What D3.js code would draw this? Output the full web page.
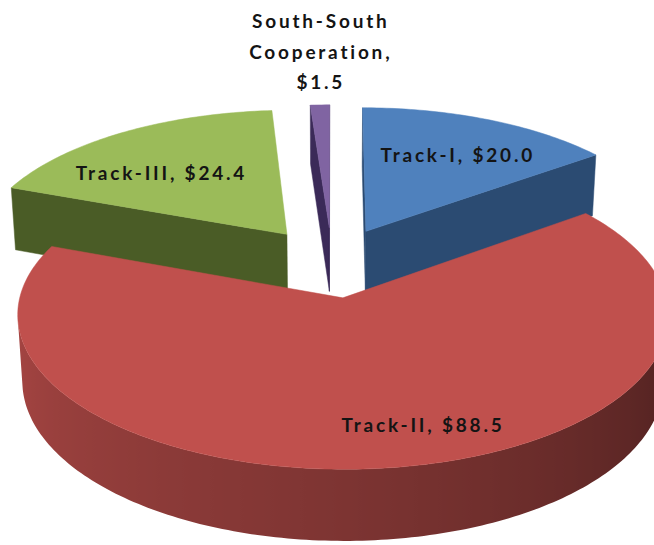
<!DOCTYPE html>
<html>
<head>
<meta charset="utf-8">
<script src="https://cdn.jsdelivr.net/npm/d3@7"></script>
<style>
  body { margin: 0; background: #fff; }
  text { font-family: Lato, "Open Sans", sans-serif; font-weight: bold; }
</style>
</head>
<body>
<script>
// data (US$)
const categories = ["Track-I", "Track-II", "Track-III", "South-South Cooperation"];
const values = [20.0, 88.5, 24.4, 1.5];

// styles
const topColors = ["#4f81bd", "#c0504d", "#9bbb59", "#8064a2"];
const faceColors = ["#2b4b72", "#7e302e", "#4a5c26", "#3b2a58"];

// label placement: [angle in degrees, radius as share of pie radius]
const labelPlaces = [[28.7, 0.667], [164, 0.796], [316.5, 0.64], [358.5, 1.5]];

const width = 654, height = 545;

// 3d view settings (pie radius = 1)
const DIST = 8;          // camera distance
const FOCAL = 2480;      // focal length in px
const TILT = Math.asin(0.48);
const H = 0.235;         // thickness
const EXPLODE = 0.245;
const CX = 332, CY = 262; // where the top centre lands

const svg = d3.select("body").append("svg")
    .attr("width", width)
    .attr("height", height);
const defs = svg.append("defs");

const cosT = Math.cos(TILT), sinT = Math.sin(TILT);
function raw(X, Y, Z) {
    const yc = Y * cosT + Z * sinT, zc = -Y * sinT + Z * cosT;
    return [FOCAL * X / (DIST + zc), -FOCAL * yc / (DIST + zc)];
}
const origin = raw(0, H, 0);
function project(X, Y, Z) {
    const p = raw(X, Y, Z);
    return [CX + p[0] - origin[0], CY + p[1] - origin[1]];
}
const cam = [0, DIST * sinT, -DIST * cosT];
const facing = (nx, nz, px, pz) => nx * (cam[0] - px) + nz * (cam[2] - pz) > 0;

const line = d3.line();
const poly = pts => line(pts) + "Z";

const arcs = d3.pie().sort(null).value(d => d)(values);

const slices = arcs.map((a, i) => {
    const mid = (a.startAngle + a.endAngle) / 2;
    const ox = EXPLODE * Math.sin(mid), oz = EXPLODE * Math.cos(mid);
    return { i, a, mid, ox, oz };
});

// back slices first
const order = slices.slice().sort((p, q) => q.oz - p.oz);

const deg = Math.PI / 180;

order.forEach(s => {
    const { i, a, ox, oz } = s;
    const g = svg.append("g");
    const base = d3.color(topColors[i]);
    const wallColor = d3.scaleLinear()
        .domain([90 * deg, 180 * deg, 270 * deg])
        .range([base.darker(2.67), base.darker(1.2), base.darker(0.35)])
        .interpolate(d3.interpolateRgb)
        .clamp(true);

    const pos = (ang, r, y) => project(ox + r * Math.sin(ang), y, oz + r * Math.cos(ang));
    const n = Math.max(2, Math.ceil((a.endAngle - a.startAngle) / deg));
    const angs = d3.range(n + 1).map(k => a.startAngle + (a.endAngle - a.startAngle) * k / n);

    // radial faces
    [[a.startAngle, a.startAngle - Math.PI / 2], [a.endAngle, a.endAngle + Math.PI / 2]].forEach(([ang, nAng]) => {
        const px = ox + 0.5 * Math.sin(ang), pz = oz + 0.5 * Math.cos(ang);
        if (!facing(Math.sin(nAng), Math.cos(nAng), px, pz)) return;
        g.append("path")
            .attr("d", poly([pos(0, 0, H), pos(ang, 1, H), pos(ang, 1, 0), pos(0, 0, 0)]))
            .attr("fill", faceColors[i])
            .attr("stroke", faceColors[i])
            .attr("stroke-width", 0.5);
    });

    // outer wall: the part turned to the camera, shaded left (light) to right (dark)
    const vis = angs.filter(t => facing(Math.sin(t), Math.cos(t), ox + Math.sin(t), oz + Math.cos(t)));
    if (vis.length > 1) {
        const topPts = vis.map(t => pos(t, 1, H));
        const botPts = vis.map(t => pos(t, 1, 0)).reverse();
        const xs = topPts.map(p => p[0]);
        const x0 = d3.min(xs), x1 = d3.max(xs);
        const grad = defs.append("linearGradient")
            .attr("id", "wall" + i)
            .attr("gradientUnits", "userSpaceOnUse")
            .attr("x1", x0).attr("x2", x1).attr("y1", 0).attr("y2", 0);
        const stops = vis.map((t, k) => {
            const w = ((t % (2 * Math.PI)) + 2 * Math.PI) % (2 * Math.PI);
            return { o: (xs[k] - x0) / (x1 - x0 || 1), c: wallColor(w < 90 * deg ? 90 * deg : w) };
        }).sort((p, q) => p.o - q.o);
        grad.selectAll("stop").data(stops).enter().append("stop")
            .attr("offset", d => d.o)
            .attr("stop-color", d => d.c);
        g.append("path")
            .attr("d", poly(topPts.concat(botPts)))
            .attr("fill", `url(#wall${i})`);
    }

    // top
    g.append("path")
        .attr("d", poly([pos(0, 0, H)].concat(angs.map(t => pos(t, 1, H)))))
        .attr("fill", topColors[i])
        .attr("stroke", topColors[i])
        .attr("stroke-width", 0.5);
});

// labels
const labelLines = categories.map((c, i) => {
    const v = "$" + values[i].toFixed(1);
    return c.includes(" ") ? c.split(" ").map((w, k, arr) => k === arr.length - 1 ? w + "," : w).concat([v]) : [c + ", " + v];
});

slices.forEach(s => {
    const [angDeg, r] = labelPlaces[s.i];
    const ang = angDeg * deg;
    const p = project(s.ox + r * Math.sin(ang), H, s.oz + r * Math.cos(ang));
    const lines = labelLines[s.i];
    const lh = 30.5;
    const y0 = p[1] + 6.5 - (lines.length - 1) * lh / 2;
    const t = svg.append("text")
        .attr("text-anchor", "middle")
        .attr("font-size", 19)
        .attr("letter-spacing", "2.8px")
        .attr("fill", "#141414");
    lines.forEach((l, k) => {
        t.append("tspan").attr("x", p[0] + 1.4).attr("y", y0 + k * lh).text(l);
    });
});
</script>
</body>
</html>
